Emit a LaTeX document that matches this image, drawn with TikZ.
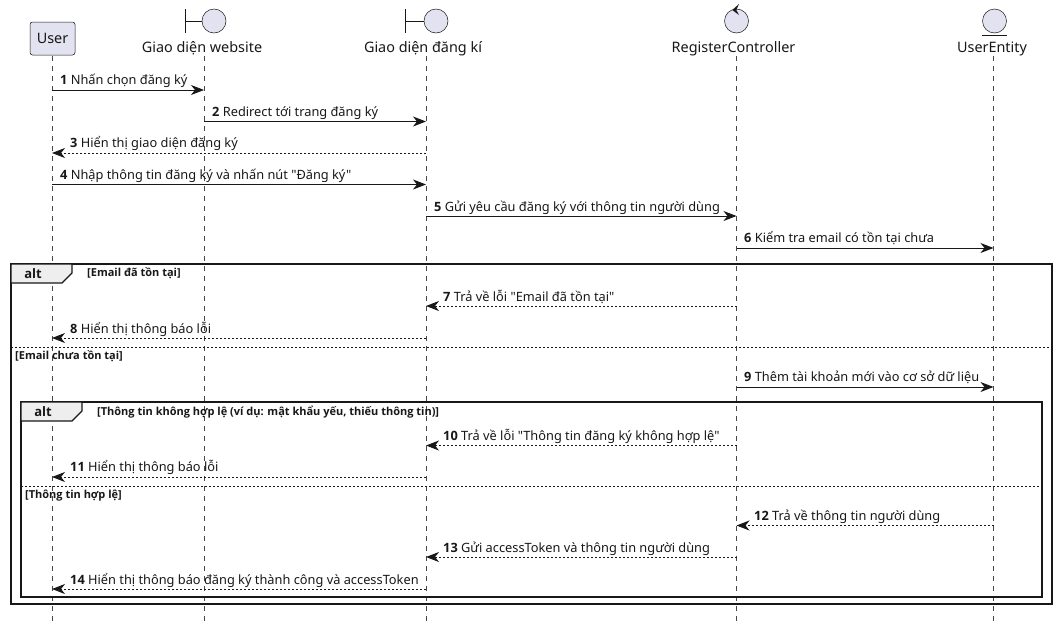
\documentclass[tikz,border=0pt]{standalone}
\usepackage{fontspec}
\setmainfont{Noto Sans}[Ligatures=TeXOff,BoldFont={Open Sans Bold},BoldFeatures={Ligatures=TeXOff}]
\usetikzlibrary{arrows.meta}
\definecolor{actorfill}{HTML}{E2E2F0}
\definecolor{ink}{HTML}{181818}
\definecolor{tabfill}{HTML}{EEEEEE}
\tikzset{
  lifeline/.style={draw=ink!80,line width=0.5pt,dash pattern=on 5pt off 5pt},
  headlabel/.style={font=\fontsize{14.4}{17}\selectfont,inner sep=0pt,anchor=base,text=ink},
  headcircle/.style={draw=ink,fill=actorfill,line width=0.5pt,circle,minimum size=24pt,inner sep=0pt},
  headline/.style={draw=ink,line width=0.6pt},
  msgline/.style={draw=ink,line width=0.9pt,-{Stealth[length=13pt,width=10pt,inset=4pt]}},
  retline/.style={msgline,dash pattern=on 2pt off 2pt},
  msglabel/.style={font=\fontsize{12.8}{15}\selectfont,inner sep=0pt,anchor=base west,text=ink},
  frameline/.style={draw=ink,line width=1.6pt},
  framesep/.style={draw=ink,line width=0.8pt,dash pattern=on 2pt off 2pt},
  tabshape/.style={draw=ink,fill=tabfill,line width=1.1pt},
  tablabel/.style={font=\fontsize{13}{15}\bfseries\selectfont,inner sep=0pt,anchor=base,text=ink},
  guard/.style={font=\fontsize{11}{13}\bfseries\selectfont,inner sep=0pt,anchor=base west,text=ink},
}
% \msg{from}{to}{y}{number}{style}
\newcommand\msg[5]{%
  \coordinate (m#4a) at (#1 |- 0,#3);
  \coordinate (m#4b) at (#2 |- 0,#3);
  \path[#5] (m#4a) -- (m#4b);
}
\begin{document}
\begin{tikzpicture}[x=1pt,y=-1pt]
\useasboundingbox (0,0) rectangle (1057,627);
\fill[white] (0,0) rectangle (1057,627);
% lifeline ends
\coordinate (u) at (52,56);   \coordinate (ub) at (52,622);
\coordinate (w) at (204,56);  \coordinate (wb) at (204,622);
\coordinate (r) at (426,56);  \coordinate (rb) at (426,622);
\coordinate (c) at (736.5,56);\coordinate (cb) at (736.5,622);
\coordinate (e) at (993.5,56);\coordinate (eb) at (993.5,622);
\foreach \a/\b in {u/ub,w/wb,r/rb,c/cb,e/eb}{\draw[lifeline] (\a) -- (\b);}
% heads
\node[draw=ink,fill=actorfill,line width=0.5pt,rounded corners=2.5pt,minimum width=45pt,minimum height=33pt,inner sep=0pt,font=\fontsize{14.4}{17}\selectfont,text=ink] (huser) at (52.5,38.5) {User};
\node[headcircle] (hw) at (214,21) {};
\draw[headline] (185,9) -- (185,33) (185,21) -- (hw.west);
\node[headlabel] (lw) at (202,52) {Giao diện website};
\node[headcircle] (hr) at (436,21) {};
\draw[headline] (405,9) -- (405,33) (405,21) -- (hr.west);
\node[headlabel] (lr) at (423,52) {Giao diện đăng kí};
\node[headcircle] (hc) at (736.5,21) {};
\fill[ink] (739,4) -- (732.3,10) -- (739,15) -- (736.3,10) -- cycle;
\node[headlabel] (lc) at (733.5,52) {RegisterController};
\node[headcircle] (he) at (994.5,21) {};
\draw[headline] (982,35) -- (1007,35);
\node[headlabel] (le) at (992,52) {UserEntity};
% outer frame
\draw[frameline] (11,264) rectangle (1052,604);
\draw[tabshape] (11,264) -- (72,264) -- (72,273) -- (62,283) -- (11,283) -- cycle;
\node[tablabel] (a1) at (33,278) {alt};
\node[guard] (g1) at (87,276) {[Email đã tồn tại]};
\draw[framesep] (11,347) -- (1052,347);
\node[guard] (g2) at (15,359) {[Email chưa tồn tại]};
% inner frame
\draw[frameline] (21,402) rectangle (1042,597);
\draw[tabshape] (21,402) -- (82,402) -- (82,411) -- (72,421) -- (21,421) -- cycle;
\node[tablabel] (a2) at (43,416) {alt};
\node[guard] (g3) at (97,415) {[Thông tin không hợp lệ (ví dụ: mật khẩu yếu, thiếu thông tin)]};
\draw[framesep] (21,486) -- (1042,486);
\node[guard] (g4) at (25,498) {[Thông tin hợp lệ]};
% messages
\msg{u}{w}{90}{1}{msgline}
\msg{w}{r}{121.5}{2}{msgline}
\msg{r}{u}{153}{3}{retline}
\msg{u}{r}{184.5}{4}{msgline}
\msg{r}{c}{216}{5}{msgline}
\msg{c}{e}{248}{6}{msgline}
\msg{c}{r}{306}{7}{retline}
\msg{r}{u}{338}{8}{retline}
\msg{c}{e}{387}{9}{msgline}
\msg{c}{r}{445.5}{10}{retline}
\msg{r}{u}{477}{11}{retline}
\msg{e}{c}{525.5}{12}{retline}
\msg{c}{r}{557}{13}{retline}
\msg{r}{u}{589}{14}{retline}
% message labels
\node[msglabel] (t1) at (60,84)  {\textbf{1} Nhấn chọn đăng ký};
\node[msglabel] (t2) at (212,116) {\textbf{2} Redirect tới trang đăng ký};
\node[msglabel] (t3) at (70,147) {\textbf{3} Hiển thị giao diện đăng ký};
\node[msglabel] (t4) at (60,179) {\textbf{4} Nhập thông tin đăng ký và nhấn nút "Đăng ký"};
\node[msglabel] (t5) at (434,211) {\textbf{5} Gửi yêu cầu đăng ký với thông tin người dùng};
\node[msglabel] (t6) at (744,242) {\textbf{6} Kiểm tra email có tồn tại chưa};
\node[msglabel] (t7) at (443,301) {\textbf{7} Trả về lỗi "Email đã tồn tại"};
\node[msglabel] (t8) at (70,333) {\textbf{8} Hiển thị thông báo lỗi};
\node[msglabel] (t9) at (744,381) {\textbf{9} Thêm tài khoản mới vào cơ sở dữ liệu};
\node[msglabel] (t10) at (443,440) {\textbf{10} Trả về lỗi "Thông tin đăng ký không hợp lệ"};
\node[msglabel] (t11) at (70,471) {\textbf{11} Hiển thị thông báo lỗi};
\node[msglabel] (t12) at (754,520) {\textbf{12} Trả về thông tin người dùng};
\node[msglabel] (t13) at (443,552) {\textbf{13} Gửi accessToken và thông tin người dùng};
\node[msglabel] (t14) at (70,584) {\textbf{14} Hiển thị thông báo đăng ký thành công và accessToken};
\end{tikzpicture}
\end{document}
